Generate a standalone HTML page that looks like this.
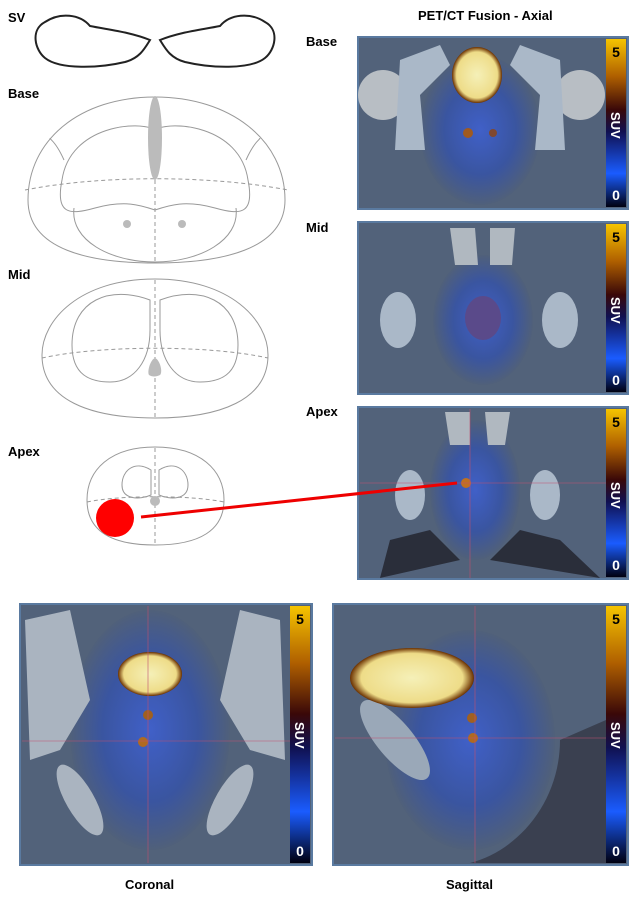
<!DOCTYPE html><html><head><style>body{margin:0;background:#fff}svg{display:block}text{font-family:"Liberation Sans",sans-serif;font-weight:bold}</style></head><body>
<svg width="643" height="901" viewBox="0 0 643 901" xmlns="http://www.w3.org/2000/svg">
<defs>
<linearGradient id="cb" x1="0" y1="0" x2="0" y2="1"><stop offset="0" stop-color="#f5c400"/><stop offset="0.22" stop-color="#b06000"/><stop offset="0.42" stop-color="#3a0808"/><stop offset="0.55" stop-color="#101050"/><stop offset="0.8" stop-color="#1a5cff"/><stop offset="1" stop-color="#000010"/></linearGradient>
<radialGradient id="glow" cx="0.5" cy="0.5" r="0.5"><stop offset="0" stop-color="#4060c8"/><stop offset="0.6" stop-color="#3a55a0"/><stop offset="1" stop-color="#50607a"/></radialGradient>
<radialGradient id="blad" cx="0.5" cy="0.5" r="0.5"><stop offset="0" stop-color="#f5f0b8"/><stop offset="0.82" stop-color="#eedc88"/><stop offset="1" stop-color="#6a3000"/></radialGradient>
</defs>
<g fill="#000" font-size="13"><text x="8" y="22">SV</text><text x="8" y="98">Base</text><text x="8" y="279">Mid</text><text x="8" y="456">Apex</text>
<text x="306" y="46">Base</text><text x="306" y="232">Mid</text><text x="306" y="416">Apex</text>
<text x="418" y="20">PET/CT Fusion - Axial</text><text x="125" y="889">Coronal</text><text x="446" y="889">Sagittal</text></g>
<path d="M150 40 C130 32 110 30 90 26 C80 14 60 12 45 22 C30 30 35 50 45 58 C60 70 100 68 125 62 C140 58 145 48 150 40 Z" fill="none" stroke="#222" stroke-width="2"/>
<path d="M160 40 C180 32 200 30 220 26 C230 14 250 12 265 22 C280 30 275 50 265 58 C250 70 210 68 185 62 C170 58 165 48 160 40 Z" fill="none" stroke="#222" stroke-width="2"/>
<g fill="none" stroke="#999" stroke-width="1">
<path d="M155 97 C230 97 285 140 285 200 C285 250 220 263 155 263 C90 263 28 250 28 200 C28 140 80 97 155 97 Z"/>
<path d="M155 130 C170 120 240 125 248 180 C255 215 240 215 215 208 C185 200 170 205 155 210 C140 205 125 200 95 208 C70 215 55 215 62 180 C70 125 140 120 155 130 Z"/>
<path d="M74 208 C70 240 110 262 155 262 C200 262 240 240 236 208"/>
<path d="M64 160 C55 140 50 140 50 138 M246 160 C255 140 260 140 260 138"/>
<path d="M25 190 C100 175 210 175 288 190" stroke-dasharray="4 3"/><path d="M155 180 V263" stroke-dasharray="4 3"/>
<path d="M155 279 C230 279 268 320 268 355 C268 400 220 418 155 418 C90 418 42 400 42 355 C42 320 80 279 155 279 Z"/>
<path d="M150 300 C110 285 72 300 72 345 C72 375 90 382 110 382 C135 382 150 360 150 330 Z"/>
<path d="M160 300 C200 285 238 300 238 345 C238 375 220 382 200 382 C175 382 160 360 160 330 Z"/>
<path d="M42 358 C100 345 210 345 268 358" stroke-dasharray="4 3"/><path d="M155 280 V418" stroke-dasharray="4 3"/>
<path d="M155 447 C200 447 224 470 224 500 C224 530 200 545 155 545 C110 545 87 530 87 500 C87 470 110 447 155 447 Z"/>
<path d="M151 470 C135 460 122 470 122 485 C122 500 140 500 151 495 Z"/><path d="M159 470 C175 460 188 470 188 485 C188 500 170 500 159 495 Z"/>
<path d="M87 502 C120 495 190 495 224 502" stroke-dasharray="4 3"/><path d="M155 448 V545" stroke-dasharray="4 3"/>
</g>
<g fill="#bbb"><ellipse cx="155" cy="138" rx="7" ry="42"/><circle cx="127" cy="224" r="4"/><circle cx="182" cy="224" r="4"/><path d="M155 358 C160 360 163 372 160 375 C156 377 152 377 149 375 C147 372 150 360 155 358Z"/><circle cx="155" cy="501" r="5"/></g>
<g>
<rect x="358" y="37" width="270" height="172" fill="#52627a" stroke="#5a7aa0" stroke-width="2"/>
<ellipse cx="480" cy="130" rx="60" ry="75" fill="url(#glow)"/>
<circle cx="383" cy="95" r="25" fill="#b8bec4"/><circle cx="580" cy="95" r="25" fill="#b8bec4"/>
<path d="M400 60 L440 45 L450 65 L420 95 L425 150 L395 150 Z M560 60 L520 45 L510 65 L540 95 L535 150 L565 150 Z" fill="#aab8c8"/>
<ellipse cx="477" cy="75" rx="25" ry="28" fill="url(#blad)"/>
<circle cx="468" cy="133" r="5" fill="#a05a20"/><circle cx="493" cy="133" r="4" fill="#804830"/>
<rect x="606" y="39" width="20" height="168" fill="url(#cb)"/>
</g>
<g>
<rect x="358" y="222" width="270" height="172" fill="#52627a" stroke="#5a7aa0" stroke-width="2"/>
<ellipse cx="483" cy="320" rx="50" ry="65" fill="url(#glow)"/>
<path d="M450 228 L475 228 L478 265 L455 265Z M490 228 L515 228 L512 265 L490 265Z" fill="#b0b8c0"/>
<ellipse cx="398" cy="320" rx="18" ry="28" fill="#aab8c8"/><ellipse cx="560" cy="320" rx="18" ry="28" fill="#aab8c8"/>
<ellipse cx="483" cy="318" rx="18" ry="22" fill="#5a4a8a"/>
<rect x="606" y="224" width="20" height="168" fill="url(#cb)"/>
</g>
<g>
<rect x="358" y="407" width="270" height="172" fill="#52627a" stroke="#5a7aa0" stroke-width="2"/>
<ellipse cx="475" cy="490" rx="45" ry="70" fill="url(#glow)"/>
<path d="M445 412 L470 412 L470 445 L450 445Z M485 412 L510 412 L505 445 L488 445Z" fill="#b0b8c0"/>
<ellipse cx="410" cy="495" rx="15" ry="25" fill="#aab8c8"/><ellipse cx="545" cy="495" rx="15" ry="25" fill="#aab8c8"/>
<path d="M390 540 L430 530 L460 560 L380 578Z M560 540 L520 530 L490 560 L600 578Z" fill="#2a2e3a"/>
<circle cx="466" cy="483" r="5" fill="#c07020"/>
<line x1="360" y1="483" x2="606" y2="483" stroke="#c05070" stroke-width="0.6"/><line x1="470" y1="409" x2="470" y2="578" stroke="#c05070" stroke-width="0.6"/>
<rect x="606" y="409" width="20" height="168" fill="url(#cb)"/>
</g>
<g>
<rect x="20" y="604" width="292" height="261" fill="#52627a" stroke="#5a7aa0" stroke-width="2"/>
<ellipse cx="150" cy="730" rx="80" ry="120" fill="url(#glow)"/>
<path d="M25 620 L70 610 L90 700 L60 750 L30 760Z M280 620 L240 610 L220 700 L250 750 L285 760Z" fill="#aab4c0"/>
<ellipse cx="80" cy="800" rx="14" ry="40" fill="#aab4c0" transform="rotate(-30 80 800)"/><ellipse cx="230" cy="800" rx="14" ry="40" fill="#aab4c0" transform="rotate(30 230 800)"/>
<ellipse cx="150" cy="674" rx="32" ry="22" fill="url(#blad)"/>
<circle cx="148" cy="715" r="5" fill="#a06020"/><circle cx="143" cy="742" r="5" fill="#b06a20"/>
<line x1="22" y1="741" x2="290" y2="741" stroke="#c05070" stroke-width="0.6"/><line x1="148" y1="606" x2="148" y2="863" stroke="#c05070" stroke-width="0.6"/>
<rect x="290" y="606" width="20" height="257" fill="url(#cb)"/>
</g>
<g>
<rect x="333" y="604" width="295" height="261" fill="#52627a" stroke="#5a7aa0" stroke-width="2"/>
<ellipse cx="470" cy="740" rx="85" ry="110" fill="url(#glow)"/>
<path d="M560 740 C560 800 520 850 470 863 L606 863 L606 720Z" fill="#3a4050"/>
<ellipse cx="395" cy="740" rx="18" ry="50" fill="#9aa8b8" transform="rotate(-40 395 740)"/>
<ellipse cx="412" cy="678" rx="62" ry="30" fill="url(#blad)"/>
<circle cx="472" cy="718" r="5" fill="#a06020"/><circle cx="473" cy="738" r="5" fill="#b06a20"/>
<line x1="335" y1="738" x2="606" y2="738" stroke="#c05070" stroke-width="0.6"/><line x1="475" y1="606" x2="475" y2="863" stroke="#c05070" stroke-width="0.6"/>
<rect x="606" y="606" width="20" height="257" fill="url(#cb)"/>
</g>
<g font-size="14" text-anchor="middle"><text x="616" y="57" fill="#000">5</text><text x="616" y="200" fill="#fff">0</text>
<text x="616" y="242" fill="#000">5</text><text x="616" y="385" fill="#fff">0</text>
<text x="616" y="427" fill="#000">5</text><text x="616" y="570" fill="#fff">0</text>
<text x="300" y="624" fill="#000">5</text><text x="300" y="856" fill="#fff">0</text>
<text x="616" y="624" fill="#000">5</text><text x="616" y="856" fill="#fff">0</text></g>
<g font-size="13" fill="#fff"><text transform="translate(611,112) rotate(90)">SUV</text><text transform="translate(611,297) rotate(90)">SUV</text><text transform="translate(611,482) rotate(90)">SUV</text><text transform="translate(295,722) rotate(90)">SUV</text><text transform="translate(611,722) rotate(90)">SUV</text></g>
<circle cx="115" cy="518" r="19" fill="#f00"/>
<line x1="141" y1="517" x2="457" y2="483" stroke="#e00" stroke-width="3"/>
</svg></body></html>
